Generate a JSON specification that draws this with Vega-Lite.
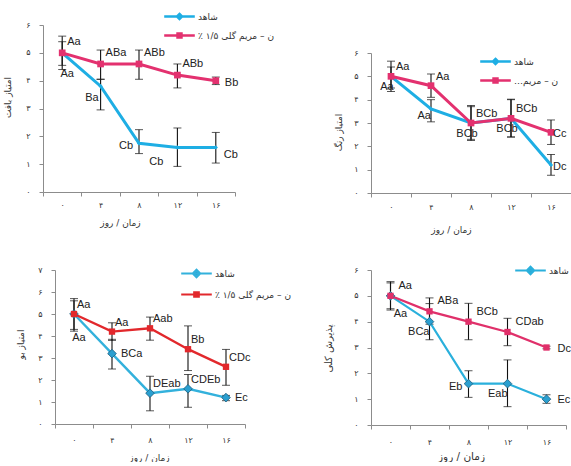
{
"$schema": "https://vega.github.io/schema/vega-lite/v6.json",
"padding": {"left": 3, "top": 6, "right": 0, "bottom": 0},
"background": "white",
"datasets": {"d": [
{"p":"t","g":"شاهد","day":0,"v":5.0,"lo":4.55,"hi":5.4,"lab":"Aa","pos":"s2"},
{"p":"t","g":"شاهد","day":4,"v":3.8,"lo":2.95,"hi":4.05,"lab":"Ba","pos":"sw"},
{"p":"t","g":"شاهد","day":8,"v":1.75,"lo":1.38,"hi":2.24,"lab":"Cb","pos":"w"},
{"p":"t","g":"شاهد","day":12,"v":1.6,"lo":0.92,"hi":2.3,"lab":"Cb","pos":"ssw"},
{"p":"t","g":"شاهد","day":16,"v":1.6,"lo":1.04,"hi":2.14,"lab":"Cb","pos":"se"},
{"p":"t","g":"ن – مریم گلی ۱/۵ ٪","day":0,"v":5.0,"lo":4.4,"hi":5.6,"lab":"Aa","pos":"ne"},
{"p":"t","g":"ن – مریم گلی ۱/۵ ٪","day":4,"v":4.6,"lo":4.05,"hi":5.1,"lab":"ABa","pos":"ne"},
{"p":"t","g":"ن – مریم گلی ۱/۵ ٪","day":8,"v":4.6,"lo":4.05,"hi":5.1,"lab":"ABb","pos":"ne"},
{"p":"t","g":"ن – مریم گلی ۱/۵ ٪","day":12,"v":4.2,"lo":3.74,"hi":4.6,"lab":"ABb","pos":"ne"},
{"p":"t","g":"ن – مریم گلی ۱/۵ ٪","day":16,"v":4.0,"lo":3.86,"hi":4.13,"lab":"Bb","pos":"e"},
{"p":"c","g":"شاهد","day":0,"v":5.0,"lo":4.5,"hi":5.4,"lab":"Aa","pos":"s"},
{"p":"c","g":"شاهد","day":4,"v":3.6,"lo":3.05,"hi":4.0,"lab":"Aa","pos":"sw"},
{"p":"c","g":"شاهد","day":8,"v":3.0,"lo":2.3,"hi":3.7,"lab":"BCb","pos":"s"},
{"p":"c","g":"شاهد","day":12,"v":3.2,"lo":2.4,"hi":4.0,"lab":"BCb","pos":"s"},
{"p":"c","g":"شاهد","day":16,"v":1.2,"lo":0.76,"hi":1.65,"lab":"Dc","pos":"e"},
{"p":"c","g":"ن – مریم گلی ۱/۵ ٪","day":0,"v":5.0,"lo":4.35,"hi":5.65,"lab":"Aa","pos":"ne"},
{"p":"c","g":"ن – مریم گلی ۱/۵ ٪","day":4,"v":4.6,"lo":4.1,"hi":5.1,"lab":"Aa","pos":"ne"},
{"p":"c","g":"ن – مریم گلی ۱/۵ ٪","day":8,"v":3.0,"lo":2.25,"hi":3.75,"lab":"BCb","pos":"ne"},
{"p":"c","g":"ن – مریم گلی ۱/۵ ٪","day":12,"v":3.2,"lo":2.4,"hi":4.02,"lab":"BCb","pos":"ne"},
{"p":"c","g":"ن – مریم گلی ۱/۵ ٪","day":16,"v":2.6,"lo":2.08,"hi":3.13,"lab":"Cc","pos":"e"},
{"p":"o","g":"شاهد","day":0,"v":5.0,"lo":4.22,"hi":5.6,"lab":"Aa","pos":"s2"},
{"p":"o","g":"شاهد","day":4,"v":3.2,"lo":2.5,"hi":3.85,"lab":"BCa","pos":"e"},
{"p":"o","g":"شاهد","day":8,"v":1.4,"lo":0.6,"hi":2.17,"lab":"DEab","pos":"ne"},
{"p":"o","g":"شاهد","day":12,"v":1.6,"lo":0.76,"hi":2.25,"lab":"CDEb","pos":"ne"},
{"p":"o","g":"شاهد","day":16,"v":1.2,"lo":1.06,"hi":1.3,"lab":"Ec","pos":"e"},
{"p":"o","g":"ن – مریم گلی ۱/۵ ٪","day":0,"v":5.0,"lo":4.3,"hi":5.7,"lab":"Aa","pos":"ne"},
{"p":"o","g":"ن – مریم گلی ۱/۵ ٪","day":4,"v":4.2,"lo":3.8,"hi":4.6,"lab":"Aa","pos":"ne"},
{"p":"o","g":"ن – مریم گلی ۱/۵ ٪","day":8,"v":4.35,"lo":3.81,"hi":4.86,"lab":"Aab","pos":"ne"},
{"p":"o","g":"ن – مریم گلی ۱/۵ ٪","day":12,"v":3.4,"lo":2.43,"hi":4.46,"lab":"Bb","pos":"ne"},
{"p":"o","g":"ن – مریم گلی ۱/۵ ٪","day":16,"v":2.6,"lo":1.76,"hi":3.39,"lab":"CDc","pos":"ne"},
{"p":"a","g":"شاهد","day":0,"v":5.0,"lo":4.5,"hi":5.5,"lab":"Aa","pos":"s2"},
{"p":"a","g":"شاهد","day":4,"v":4.0,"lo":3.3,"hi":4.7,"lab":"BCa","pos":"sw"},
{"p":"a","g":"شاهد","day":8,"v":1.6,"lo":1.07,"hi":2.1,"lab":"Eb","pos":"w"},
{"p":"a","g":"شاهد","day":12,"v":1.6,"lo":0.71,"hi":2.52,"lab":"Eab","pos":"sw"},
{"p":"a","g":"شاهد","day":16,"v":1.0,"lo":0.84,"hi":1.17,"lab":"Ec","pos":"e"},
{"p":"a","g":"ن – مریم گلی ۱/۵ ٪","day":0,"v":5.0,"lo":4.45,"hi":5.55,"lab":"Aa","pos":"ne"},
{"p":"a","g":"ن – مریم گلی ۱/۵ ٪","day":4,"v":4.4,"lo":3.9,"hi":4.92,"lab":"ABa","pos":"ne"},
{"p":"a","g":"ن – مریم گلی ۱/۵ ٪","day":8,"v":4.0,"lo":3.3,"hi":4.71,"lab":"BCb","pos":"ne"},
{"p":"a","g":"ن – مریم گلی ۱/۵ ٪","day":12,"v":3.6,"lo":3.07,"hi":4.13,"lab":"CDab","pos":"ne"},
{"p":"a","g":"ن – مریم گلی ۱/۵ ٪","day":16,"v":3.0,"lo":2.95,"hi":3.05,"lab":"Dc","pos":"e"}
]},
"data": {"name": "d"},
"columns": 2,
"spacing": {"row": 77, "column": 126},
"bounds": "flush",
"align": "none",
"resolve": {"scale": {"color": "independent", "x": "independent", "y": "independent"}, "legend": {"color": "independent"}},
"concat": [
{
 "width": 197, "height": 167,
 "transform": [{"filter": "datum.p === 't'"}],
 "encoding": {
  "x": {"field": "day", "type": "ordinal", "sort": [0,4,8,12,16],
   "scale": {"type": "band", "paddingInner": 0, "paddingOuter": 0, "range": [0, 192]},
   "axis": {"title": "زمان / روز", "labelAngle": 0, "tickBand": "extent", "labelPadding": 5, "labelExpr": "{'0':'۰','4':'۴','8':'۸','12':'۱۲','16':'۱۶'}[datum.value]", "titleX": 77, "titleY": 30, "titleBaseline": "middle", "titleAlign": "center"}},
  "y": {"field": "v", "type": "quantitative",
   "scale": {"domain": [0,6], "nice": false},
   "axis": {"title": "امتیاز بافت", "values": [0,1,2,3,4,5,6], "labelExpr": "['۰','۱','۲','۳','۴','۵','۶','۷'][datum.value]", "labelPadding": 9, "titleX": -36, "titleY": 72, "titleBaseline": "middle", "titleAlign": "center"}}
 },
 "layer": [
  {"mark": {"type": "errorbar", "ticks": {"size": 8, "color": "#111"}, "rule": {"strokeWidth": 1.1, "color": "#111"}},
   "encoding": {"y": {"field": "lo", "type": "quantitative", "scale": {"domain": [0,6], "nice": false},
    "axis": {"title": "امتیاز بافت", "values": [0,1,2,3,4,5,6], "labelExpr": "['۰','۱','۲','۳','۴','۵','۶','۷'][datum.value]", "labelPadding": 9, "titleX": -36, "titleY": 72, "titleBaseline": "middle", "titleAlign": "center"}}, "y2": {"field": "hi"}}},
  {"mark": {"type": "line", "strokeWidth": 3},
   "encoding": {"color": {"field": "g", "type": "nominal", "scale": {"domain": ["شاهد", "ن – مریم گلی ۱/۵ ٪"], "range": ["#1eaee4", "#e3316f"]},
    "legend": {"orient": "none", "legendX": 126, "legendY": -19, "title": null, "padding": 0, "symbolSize": 324, "symbolStrokeWidth": 2.5, "labelOffset": 8, "rowPadding": 0, "labelFont": "DejaVu Sans", "labelFontSize": 9, "labelColor": "#333", "labelLimit": 300,
     "labelExpr": "datum.label + '\u200F'",
     "encoding": {"symbols": {"shape": {"value": {"expr": "datum.value === 'شاهد' ? 'M-1.7,0H1.7M0,-0.28L0.28,0L0,0.28L-0.28,0Z' : 'M-1.7,0H1.7M-0.22,-0.22H0.22V0.22H-0.22Z'"}}, "fill": {"value": {"expr": "datum.value === 'شاهد' ? '#1eaee4' : '#e3316f'"}}}}}}}},
  {"transform": [{"filter": "datum.g === 'شاهد'"}], "mark": {"type": "point", "shape": "diamond", "filled": true, "size": 18, "color": "#1eaee4", "opacity": 1}},
  {"transform": [{"filter": "datum.g !== 'شاهد'"}], "mark": {"type": "point", "shape": "square", "filled": true, "size": 45, "color": "#e3316f", "opacity": 1}},
  {"transform": [{"filter": "datum.pos === 'ne'"}], "mark": {"type": "text", "align": "left", "baseline": "middle", "dx": 5, "dy": -11}, "encoding": {"text": {"field": "lab"}}},
  {"transform": [{"filter": "datum.pos === 'e'"}], "mark": {"type": "text", "align": "left", "baseline": "middle", "dx": 9, "dy": 2}, "encoding": {"text": {"field": "lab"}}},
  {"transform": [{"filter": "datum.pos === 'se'"}], "mark": {"type": "text", "align": "left", "baseline": "middle", "dx": 8, "dy": 8}, "encoding": {"text": {"field": "lab"}}},
  {"transform": [{"filter": "datum.pos === 'sw'"}], "mark": {"type": "text", "align": "right", "baseline": "middle", "dx": -2, "dy": 12}, "encoding": {"text": {"field": "lab"}}},
  {"transform": [{"filter": "datum.pos === 'ssw'"}], "mark": {"type": "text", "align": "right", "baseline": "middle", "dx": -14, "dy": 15}, "encoding": {"text": {"field": "lab"}}},
  {"transform": [{"filter": "datum.pos === 'w'"}], "mark": {"type": "text", "align": "right", "baseline": "middle", "dx": -6, "dy": 3}, "encoding": {"text": {"field": "lab"}}},
  {"transform": [{"filter": "datum.pos === 's2'"}], "mark": {"type": "text", "align": "center", "baseline": "middle", "dx": 5, "dy": 21}, "encoding": {"text": {"field": "lab"}}}
 ]
},
{
 "width": 200, "height": 168,
 "transform": [{"filter": "datum.p === 'c'"}],
 "encoding": {
  "x": {"field": "day", "type": "ordinal", "sort": [0,4,8,12,16],
   "scale": {"type": "band", "paddingInner": 0, "paddingOuter": 0, "range": [0, 200]},
   "axis": {"title": "زمان / روز", "labelAngle": 0, "tickBand": "extent", "labelPadding": 6, "labelExpr": "{'0':'۰','4':'۴','8':'۸','12':'۱۲','16':'۱۶'}[datum.value]", "titleX": 80, "titleY": 36, "titleBaseline": "middle", "titleAlign": "center"}},
  "y": {"field": "v", "type": "quantitative",
   "scale": {"domain": [0,6], "nice": false, "range": [168, 28]},
   "axis": {"title": "امتیاز رنگ", "values": [0,1,2,3,4,5,6], "labelExpr": "['۰','۱','۲','۳','۴','۵','۶','۷'][datum.value]", "labelPadding": 9, "titleX": -33, "titleY": 107, "titleBaseline": "middle", "titleAlign": "center"}}
 },
 "layer": [
  {"mark": {"type": "errorbar", "ticks": {"size": 8, "color": "#111"}, "rule": {"strokeWidth": 1.1, "color": "#111"}},
   "encoding": {"y": {"field": "lo", "type": "quantitative", "scale": {"domain": [0,6], "nice": false, "range": [168, 28]},
    "axis": {"title": "امتیاز رنگ", "values": [0,1,2,3,4,5,6], "labelExpr": "['۰','۱','۲','۳','۴','۵','۶','۷'][datum.value]", "labelPadding": 9, "titleX": -33, "titleY": 107, "titleBaseline": "middle", "titleAlign": "center"}}, "y2": {"field": "hi"}}},
  {"mark": {"type": "line", "strokeWidth": 3},
   "encoding": {"color": {"field": "g", "type": "nominal", "scale": {"domain": ["شاهد", "ن – مریم گلی ۱/۵ ٪"], "range": ["#1eaee4", "#e3316f"]},
    "legend": {"orient": "none", "legendX": 114, "legendY": 26, "title": null, "padding": 0, "symbolSize": 324, "symbolStrokeWidth": 2.5, "labelOffset": 8, "rowPadding": 0, "labelFont": "DejaVu Sans", "labelFontSize": 9, "labelColor": "#333", "labelLimit": 300,
     "labelExpr": "datum.value === 'شاهد' ? 'شاهد' : 'ن – مریم…\u200F'",
     "encoding": {"symbols": {"shape": {"value": {"expr": "datum.value === 'شاهد' ? 'M-1.7,0H1.7M0,-0.28L0.28,0L0,0.28L-0.28,0Z' : 'M-1.7,0H1.7M-0.22,-0.22H0.22V0.22H-0.22Z'"}}, "fill": {"value": {"expr": "datum.value === 'شاهد' ? '#1eaee4' : '#e3316f'"}}}}}}}},
  {"transform": [{"filter": "datum.g === 'شاهد'"}], "mark": {"type": "point", "shape": "diamond", "filled": true, "size": 18, "color": "#1eaee4", "opacity": 1}},
  {"transform": [{"filter": "datum.g !== 'شاهد'"}], "mark": {"type": "point", "shape": "square", "filled": true, "size": 45, "color": "#e3316f", "opacity": 1}},
  {"transform": [{"filter": "datum.pos === 'ne'"}], "mark": {"type": "text", "align": "left", "baseline": "middle", "dx": 5, "dy": -9}, "encoding": {"text": {"field": "lab"}}},
  {"transform": [{"filter": "datum.pos === 'e'"}], "mark": {"type": "text", "align": "left", "baseline": "middle", "dx": 2, "dy": 2}, "encoding": {"text": {"field": "lab"}}},
  {"transform": [{"filter": "datum.pos === 'sw'"}], "mark": {"type": "text", "align": "right", "baseline": "middle", "dx": 0, "dy": 7}, "encoding": {"text": {"field": "lab"}}},
  {"transform": [{"filter": "datum.pos === 's'"}], "mark": {"type": "text", "align": "center", "baseline": "middle", "dx": -4, "dy": 11}, "encoding": {"text": {"field": "lab"}}}
 ]
},
{
 "width": 202, "height": 154,
 "transform": [{"filter": "datum.p === 'o'"}],
 "encoding": {
  "x": {"field": "day", "type": "ordinal", "sort": [0,4,8,12,16],
   "scale": {"type": "band", "paddingInner": 0, "paddingOuter": 0, "range": [12, 202]},
   "axis": {"title": "زمان / روز", "labelAngle": 0, "tickBand": "extent", "labelPadding": 8, "labelExpr": "{'0':'۰','4':'۴','8':'۸','12':'۱۲','16':'۱۶'}[datum.value]", "titleX": 106, "titleY": 33, "titleBaseline": "middle", "titleAlign": "center"}},
  "y": {"field": "v", "type": "quantitative",
   "scale": {"domain": [0,7], "nice": false},
   "axis": {"title": "امتیاز بو", "offset": -12, "values": [0,1,2,3,4,5,6,7], "labelExpr": "['۰','۱','۲','۳','۴','۵','۶','۷'][datum.value]", "labelPadding": 9, "titleX": -35, "titleY": 74, "titleBaseline": "middle", "titleAlign": "center"}}
 },
 "layer": [
  {"mark": {"type": "errorbar", "ticks": {"size": 8, "color": "#111"}, "rule": {"strokeWidth": 1.1, "color": "#111"}},
   "encoding": {"y": {"field": "lo", "type": "quantitative", "scale": {"domain": [0,7], "nice": false},
    "axis": {"title": "امتیاز بو", "offset": -12, "values": [0,1,2,3,4,5,6,7], "labelExpr": "['۰','۱','۲','۳','۴','۵','۶','۷'][datum.value]", "labelPadding": 9, "titleX": -35, "titleY": 74, "titleBaseline": "middle", "titleAlign": "center"}}, "y2": {"field": "hi"}}},
  {"mark": {"type": "line", "strokeWidth": 2.4},
   "encoding": {"color": {"field": "g", "type": "nominal", "scale": {"domain": ["شاهد", "ن – مریم گلی ۱/۵ ٪"], "range": ["#33b1dc", "#e2282c"]},
    "legend": {"orient": "none", "legendX": 143, "legendY": -7, "title": null, "padding": 0, "symbolSize": 324, "symbolStrokeWidth": 2.2, "labelOffset": 8, "rowPadding": 2, "labelFont": "DejaVu Sans", "labelFontSize": 9, "labelColor": "#333", "labelLimit": 300,
     "labelExpr": "datum.label + '\u200F'",
     "encoding": {"symbols": {"shape": {"value": {"expr": "datum.value === 'شاهد' ? 'M-1.7,0H1.7M0,-0.4L0.4,0L0,0.4L-0.4,0Z' : 'M-1.7,0H1.7M-0.25,-0.25H0.25V0.25H-0.25Z'"}}, "fill": {"value": {"expr": "datum.value === 'شاهد' ? '#2a9fd0' : '#e2282c'"}}}}}}}},
  {"transform": [{"filter": "datum.g === 'شاهد'"}], "mark": {"type": "point", "shape": "diamond", "filled": true, "size": 75, "fill": "#2a9fd0", "stroke": "#1d5d7c", "strokeWidth": 0.8, "opacity": 1}},
  {"transform": [{"filter": "datum.g !== 'شاهد'"}], "mark": {"type": "point", "shape": "square", "filled": true, "size": 40, "color": "#e2282c", "opacity": 1}},
  {"transform": [{"filter": "datum.pos === 'ne'"}], "mark": {"type": "text", "align": "left", "baseline": "middle", "dx": 3, "dy": -9}, "encoding": {"text": {"field": "lab"}}},
  {"transform": [{"filter": "datum.pos === 'e'"}], "mark": {"type": "text", "align": "left", "baseline": "middle", "dx": 9, "dy": 0}, "encoding": {"text": {"field": "lab"}}},
  {"transform": [{"filter": "datum.pos === 's2'"}], "mark": {"type": "text", "align": "center", "baseline": "middle", "dx": 5, "dy": 24}, "encoding": {"text": {"field": "lab"}}}
 ]
},
{
 "width": 195, "height": 155,
 "transform": [{"filter": "datum.p === 'a'"}],
 "encoding": {
  "x": {"field": "day", "type": "ordinal", "sort": [0,4,8,12,16],
   "scale": {"type": "band", "paddingInner": 0, "paddingOuter": 0, "range": [0, 195]},
   "axis": {"title": "زمان / روز", "labelAngle": 0, "tickBand": "extent", "labelPadding": 9, "labelExpr": "{'0':'۰','4':'۴','8':'۸','12':'۱۲','16':'۱۶'}[datum.value]", "titleX": 90, "titleY": 31, "titleBaseline": "middle", "titleAlign": "center", "titleFontSize": 10.5}},
  "y": {"field": "v", "type": "quantitative",
   "scale": {"domain": [0,6], "nice": false},
   "axis": {"title": "پذیرش کلی", "values": [0,1,2,3,4,5,6], "labelExpr": "['۰','۱','۲','۳','۴','۵','۶','۷'][datum.value]", "labelPadding": 9, "titleX": -43, "titleY": 78, "titleBaseline": "middle", "titleAlign": "center", "titleFontSize": 10}}
 },
 "layer": [
  {"mark": {"type": "errorbar", "ticks": {"size": 8, "color": "#111"}, "rule": {"strokeWidth": 1.1, "color": "#111"}},
   "encoding": {"y": {"field": "lo", "type": "quantitative", "scale": {"domain": [0,6], "nice": false},
    "axis": {"title": "پذیرش کلی", "values": [0,1,2,3,4,5,6], "labelExpr": "['۰','۱','۲','۳','۴','۵','۶','۷'][datum.value]", "labelPadding": 9, "titleX": -43, "titleY": 78, "titleBaseline": "middle", "titleAlign": "center", "titleFontSize": 10}}, "y2": {"field": "hi"}}},
  {"mark": {"type": "line", "strokeWidth": 2.2},
   "encoding": {"color": {"field": "g", "type": "nominal", "scale": {"domain": ["شاهد", "ن – مریم گلی ۱/۵ ٪"], "range": ["#2ab0dc", "#e0306a"]},
    "legend": {"orient": "none", "legendX": 149, "legendY": -10, "values": ["شاهد"], "title": null, "padding": 0, "symbolSize": 324, "symbolStrokeWidth": 2.2, "labelOffset": 8, "rowPadding": 0, "labelFont": "DejaVu Sans", "labelFontSize": 9, "labelColor": "#333", "labelLimit": 300,
     "labelExpr": "datum.label + '\u200F'",
     "encoding": {"symbols": {"shape": {"value": "M-1.7,0H1.7M0,-0.4L0.4,0L0,0.4L-0.4,0Z"}, "fill": {"value": "#2a9fd0"}}}}}}},
  {"transform": [{"filter": "datum.g === 'شاهد'"}], "mark": {"type": "point", "shape": "diamond", "filled": true, "size": 75, "fill": "#2a9fd0", "stroke": "#1d5d7c", "strokeWidth": 0.8, "opacity": 1}},
  {"transform": [{"filter": "datum.g !== 'شاهد'"}], "mark": {"type": "point", "shape": "square", "filled": true, "size": 40, "color": "#e0306a", "opacity": 1}},
  {"transform": [{"filter": "datum.pos === 'ne'"}], "mark": {"type": "text", "align": "left", "baseline": "middle", "dx": 8, "dy": -10}, "encoding": {"text": {"field": "lab"}}},
  {"transform": [{"filter": "datum.pos === 'e'"}], "mark": {"type": "text", "align": "left", "baseline": "middle", "dx": 11, "dy": 1}, "encoding": {"text": {"field": "lab"}}},
  {"transform": [{"filter": "datum.pos === 'sw'"}], "mark": {"type": "text", "align": "right", "baseline": "middle", "dx": 0, "dy": 10}, "encoding": {"text": {"field": "lab"}}},
  {"transform": [{"filter": "datum.pos === 'w'"}], "mark": {"type": "text", "align": "right", "baseline": "middle", "dx": -6, "dy": 3}, "encoding": {"text": {"field": "lab"}}},
  {"transform": [{"filter": "datum.pos === 's2'"}], "mark": {"type": "text", "align": "center", "baseline": "middle", "dx": 10, "dy": 18}, "encoding": {"text": {"field": "lab"}}}
 ]
}
],
"config": {
 "view": {"stroke": null},
 "axis": {"domainColor": "#8c8c8c", "tickColor": "#8c8c8c", "labelFont": "DejaVu Sans", "labelFontSize": 8, "labelColor": "#333", "titleFont": "DejaVu Sans", "titleFontSize": 9, "titleFontWeight": "normal", "titleColor": "#333", "grid": false, "tickSize": 4},
 "text": {"font": "Liberation Sans", "fontSize": 11, "fill": "#222"}
}
}
